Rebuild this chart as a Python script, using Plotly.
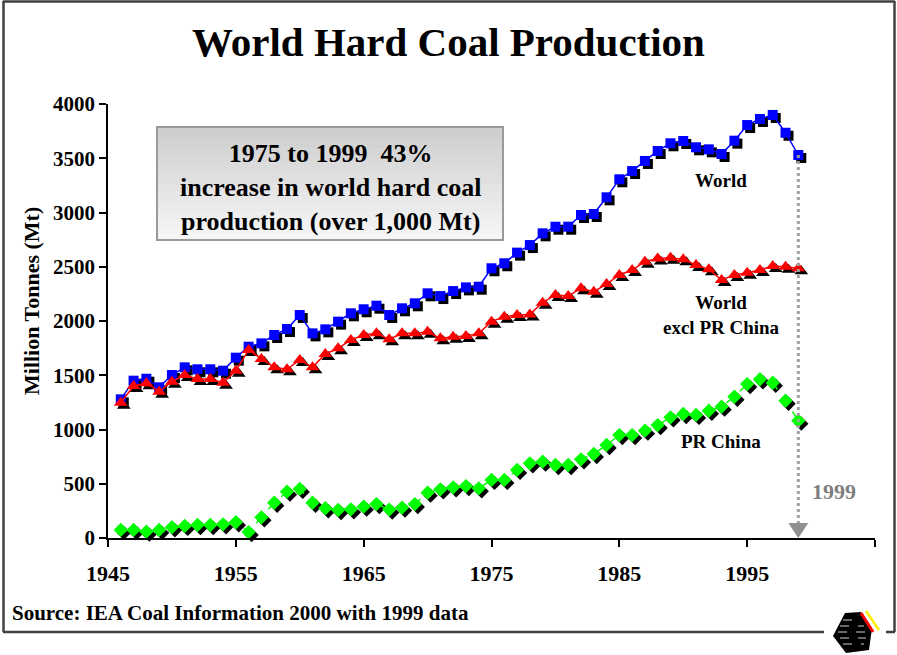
import plotly.graph_objects as go

# Hard coal production, million tonnes
YEARS = list(range(1946, 2000))
WORLD = [1278, 1450, 1468, 1389, 1502, 1573, 1555, 1555, 1542, 1662,
         1763, 1794, 1871, 1926, 2055, 1886, 1923, 1994, 2071, 2108,
         2141, 2055, 2117, 2163, 2255, 2230, 2276, 2310, 2316, 2486,
         2532, 2630, 2700, 2808, 2869, 2869, 2977, 2986, 3140, 3306,
         3382, 3475, 3567, 3638, 3659, 3601, 3582, 3539, 3662, 3806,
         3862, 3899, 3735, 3530]
WORLD_EXCL_CHINA = [1247, 1401, 1426, 1349, 1441, 1502, 1465, 1465, 1432, 1542,
                    1733, 1650, 1573, 1555, 1641, 1573, 1696, 1748, 1825, 1871,
                    1886, 1831, 1886, 1886, 1901, 1840, 1855, 1862, 1886, 1994,
                    2040, 2055, 2061, 2169, 2240, 2230, 2301, 2270, 2340, 2424,
                    2470, 2547, 2577, 2583, 2568, 2516, 2476, 2378, 2424, 2445,
                    2470, 2507, 2501, 2486]
CHINA = [74, 74, 58, 74, 99, 111, 120, 120, 126, 145,
         55, 191, 325, 427, 452, 325, 274, 258, 264, 289,
         313, 262, 280, 313, 418, 449, 467, 479, 458, 535,
         535, 627, 688, 703, 673, 673, 725, 774, 857, 949,
         949, 989, 1041, 1112, 1143, 1134, 1173, 1210, 1302, 1419,
         1463, 1431, 1265, 1081]

X_TICKS = [1945, 1955, 1965, 1975, 1985, 1995, 2005]
X_TICK_TEXT = ["1945", "1955", "1965", "1975", "1985", "1995", ""]
Y_TICKS = [0, 500, 1000, 1500, 2000, 2500, 3000, 3500, 4000]

# page geometry (pixels)
W, H = 897, 655
ML, MR, MT, MB = 108, 19, 104, 114
PW = W - ML - MR
PH = H - MT - MB
SH = 3  # drop-shadow offset of the markers

SERIF = "Liberation Serif, Times New Roman, serif"


def px(x):
    return (x - ML) / PW


def py(y):
    return (H - MB - y) / PH


series = [
    ("World", WORLD, "#0000ff", "square", 10, "solid"),
    ("World excl PR China", WORLD_EXCL_CHINA, "#ff0000", "triangle-up", 12, "solid"),
    ("PR China", CHINA, "#00ff00", "diamond", 11, "dash"),
]

fig = go.Figure()

# black drop shadows, drawn on a subplot nudged right/down
for name, vals, col, sym, size, dash in series:
    fig.add_trace(go.Scatter(
        x=YEARS, y=vals, mode="markers", xaxis="x", yaxis="y",
        marker=dict(symbol=sym, size=size, color="black", line=dict(width=0)),
        cliponaxis=False, hoverinfo="skip", showlegend=False))

# coloured series on the visible axes
for name, vals, col, sym, size, dash in series:
    fig.add_trace(go.Scatter(
        x=YEARS, y=vals, name=name, mode="lines+markers", xaxis="x2", yaxis="y2",
        line=dict(color=col, width=1.5, dash=dash),
        marker=dict(symbol=sym, size=size, color=col, line=dict(width=0)),
        cliponaxis=False, showlegend=False))

axis_common = dict(showgrid=False, zeroline=False)
fig.update_layout(
    width=W, height=H,
    margin=dict(l=ML, r=MR, t=MT, b=MB),
    paper_bgcolor="white", plot_bgcolor="rgba(0,0,0,0)",
    showlegend=False,
    xaxis=dict(domain=[SH / PW, 1], range=[1945, 2005], visible=False,
               anchor="y", **axis_common),
    yaxis=dict(domain=[0, 1 - SH / PH], range=[0, 4000], visible=False,
               anchor="x", **axis_common),
    xaxis2=dict(domain=[0, 1 - SH / PW], range=[1945, 2005], anchor="y2",
                tickmode="array", tickvals=X_TICKS, ticktext=X_TICK_TEXT,
                ticks="outside", ticklen=7, tickwidth=1.5, tickcolor="black",
                showline=True, linecolor="black", linewidth=1.5,
                ticklabelstandoff=8,
                tickfont=dict(family=SERIF, size=22, color="black", weight="bold"),
                **axis_common),
    yaxis2=dict(domain=[SH / PH, 1], range=[0, 4000], anchor="x2",
                tickmode="array", tickvals=Y_TICKS,
                ticks="outside", ticklen=7, tickwidth=1.5, tickcolor="black",
                showline=True, linecolor="black", linewidth=1.5,
                tickfont=dict(family=SERIF, size=21, color="black", weight="bold"),
                **axis_common),
)

shapes = []

# shaded text box
bx0, bx1, by0, by1 = 157, 503, 127, 240
bands = 16
for i in range(bands):
    t = i / (bands - 1)
    g = int(206 + (246 - 206) * t)
    ya = by0 + (by1 - by0) * i / bands
    yb = by0 + (by1 - by0) * (i + 1) / bands + 0.5
    shapes.append(dict(type="rect", xref="paper", yref="paper",
                       x0=px(bx0), x1=px(bx1), y0=py(ya), y1=py(yb),
                       fillcolor=f"rgb({g},{g},{g})", line=dict(width=0),
                       layer="below"))
shapes.append(dict(type="rect", xref="paper", yref="paper",
                   x0=px(bx0), x1=px(bx1), y0=py(by0), y1=py(by1),
                   line=dict(color="#9a9a9a", width=2), fillcolor="rgba(0,0,0,0)"))

# dotted drop line to the axis for the final year
shapes.append(dict(type="line", xref="x2", yref="y2",
                   x0=YEARS[-1], x1=YEARS[-1], y0=WORLD[-1], y1=0,
                   line=dict(color="#a0a0a0", width=3, dash="dot")))
shapes.append(dict(type="path", xref="x2", yref="y2",
                   xsizemode="pixel", ysizemode="pixel",
                   xanchor=YEARS[-1], yanchor=0,
                   path="M-10,15 L10,15 L0,0 Z",
                   fillcolor="#909090", line=dict(width=0)))

# page frame
frame = "#404040"
for (x0, y0, x1, y1) in [(3, 1.5, 895, 1.5), (3.5, 1, 3.5, 632),
                         (894.5, 1, 894.5, 632), (3, 632, 824, 632),
                         (886, 632, 895, 632)]:
    shapes.append(dict(type="line", xref="paper", yref="paper",
                       x0=px(x0), x1=px(x1), y0=py(y0), y1=py(y1),
                       line=dict(color=frame, width=2.5)))


def poly(points):
    return "M" + " L".join(f"{px(x):.5f},{py(y):.5f}" for x, y in points) + " Z"


# small emblem in the frame's bottom edge
shapes.append(dict(type="path", xref="paper", yref="paper",
                   path=poly([(845, 613), (861, 612), (872, 628), (869, 650),
                              (846, 653), (833, 636)]),
                   fillcolor="black", line=dict(width=0)))
for yy, xa, xb in ((620, 843, 860), (626, 840, 864), (632, 838, 866),
                   (638, 840, 866), (644, 843, 864)):
    shapes.append(dict(type="line", xref="paper", yref="paper",
                       x0=px(xa), x1=px(xb), y0=py(yy), y1=py(yy),
                       line=dict(color="#d0d0d0", width=1, dash="dash")))
shapes.append(dict(type="line", xref="paper", yref="paper",
                   x0=px(861), x1=px(873), y0=py(613), y1=py(632),
                   line=dict(color="#ff0000", width=3)))
shapes.append(dict(type="line", xref="paper", yref="paper",
                   x0=px(866), x1=px(879), y0=py(611), y1=py(630),
                   line=dict(color="#ffee00", width=2.5)))

fig.update_layout(shapes=shapes)


def label(text, x, y, size, color="black", xanchor="center", **kw):
    fig.add_annotation(text=text, xref="paper", yref="paper",
                       x=px(x), y=py(y), xanchor=xanchor, yanchor="middle",
                       showarrow=False,
                       font=dict(family=SERIF, size=size, color=color, weight="bold"),
                       **kw)


label("World Hard Coal Production", 448.5, 42, 41)
label("Million Tonnes (Mt)", 31, 301, 22, textangle=-90)
label("1975 to 1999\u00a0\u00a043%<br>increase in world hard coal<br>production (over 1,000 Mt)",
      330, 187, 26, align="center")
label("World", 721, 180, 19)
label("World<br>excl PR China", 721, 315, 19)
label("PR China", 721, 441, 19)
label("1999", 834, 491, 22, color="#7f7f7f")
label("Source: IEA Coal Information 2000 with 1999 data", 10, 613, 21, xanchor="left")

fig.write_html("out.html")
